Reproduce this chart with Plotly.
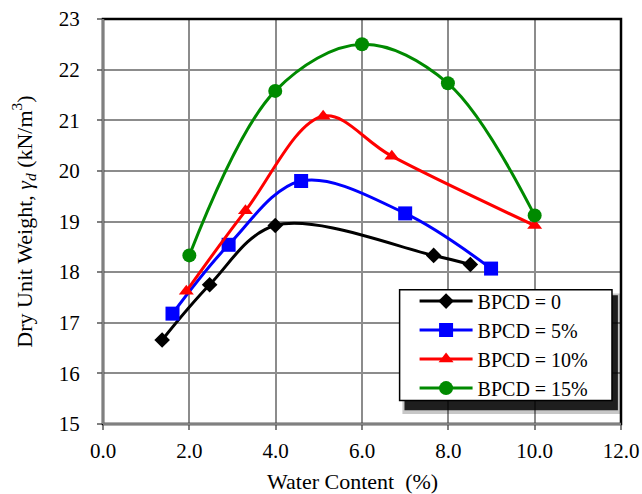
import plotly.graph_objects as go

x_0 = [1.37, 2.47, 3.99, 7.66, 8.51]
y_0 = [16.66, 17.75, 18.92, 18.33, 18.15]
x_5 = [1.61, 2.91, 4.59, 7.0, 8.99]
y_5 = [17.18, 18.54, 19.80, 19.16, 18.07]
x_10 = [1.93, 3.30, 5.10, 6.69, 10.0]
y_10 = [17.62, 19.21, 21.08, 20.29, 18.92]
x_15 = [2.0, 3.99, 6.0, 7.99, 10.0]
y_15 = [18.33, 21.58, 22.50, 21.73, 19.12]

names = ["BPCD = 0", "BPCD = 5%", "BPCD = 10%", "BPCD = 15%"]
colors = ["#000000", "#0000FF", "#FF0000", "#008A00"]
symbols = ["diamond", "square", "triangle-up", "circle"]
msizes = [12, 14, 13, 14]
x_title = "Water Content&nbsp; (%)"
y_title = "Dry Unit Weight, <i>γ<sub>d</sub></i> (kN/m<sup>3</sup>)"

FONT = "Liberation Serif"
fig = go.Figure()
for xs, ys, nm, c, s, ms in zip([x_0, x_5, x_10, x_15], [y_0, y_5, y_10, y_15],
                                names, colors, symbols, msizes):
    fig.add_trace(go.Scatter(
        x=xs, y=ys, name=nm, mode="lines+markers",
        line=dict(color=c, width=3, shape="spline", smoothing=1.0),
        marker=dict(color=c, symbol=s, size=ms, line=dict(width=0)),
    ))

# legend shadow (soft outer + dark inner) and legend box
fig.add_shape(type="rect", xref="paper", yref="paper",
              x0=0.578, x1=0.999, y0=0.025, y1=0.322,
              fillcolor="rgba(0,0,0,0.22)", line=dict(width=0), layer="above")
fig.add_shape(type="rect", xref="paper", yref="paper",
              x0=0.582, x1=0.994, y0=0.034, y1=0.318,
              fillcolor="rgba(0,0,0,0.85)", line=dict(width=0), layer="above")
fig.add_shape(type="rect", xref="paper", yref="paper",
              x0=0.5726, x1=0.9826, y0=0.0582, y1=0.3314,
              fillcolor="white", line=dict(color="black", width=1.5), layer="above")
# plot frame: black on top/right, gray on left/bottom
fig.add_shape(type="rect", xref="paper", yref="paper", x0=0, x1=1, y0=0, y1=1,
              line=dict(color="black", width=2.5), fillcolor="rgba(0,0,0,0)", layer="above")
fig.add_shape(type="line", xref="paper", yref="paper", x0=0, x1=0, y0=0, y1=1,
              line=dict(color="#808080", width=2.5), layer="above")
fig.add_shape(type="line", xref="paper", yref="paper", x0=0, x1=1, y0=0, y1=0,
              line=dict(color="#808080", width=2.5), layer="above")

fig.add_annotation(text=x_title, xref="paper", yref="paper", x=0.4826, y=-0.142,
                   xanchor="center", yanchor="middle", showarrow=False,
                   font=dict(family=FONT, size=22, color="black"))

fig.update_layout(
    width=642, height=494,
    margin=dict(l=103, r=21, t=19, b=70),
    paper_bgcolor="white", plot_bgcolor="white",
    font=dict(family=FONT, size=21, color="black"),
    showlegend=True,
    legend=dict(x=0.6015, y=0.3516, xanchor="left", yanchor="top",
                bgcolor="rgba(0,0,0,0)", borderwidth=0,
                font=dict(family=FONT, size=20), itemwidth=53,
                tracegroupgap=0, traceorder="normal"),
    xaxis=dict(range=[0, 12], dtick=2, tick0=0, tickformat=".1f",
               automargin=False, ticklabeloverflow="allow", ticklabelstandoff=3,
               showgrid=True, gridcolor="#8c8c8c", gridwidth=1.5,
               showline=False,
               ticks="outside", ticklen=5, tickcolor="#808080", tickwidth=1.5,
               zeroline=False, tickfont=dict(family=FONT, size=21)),
    yaxis=dict(range=[15, 23], dtick=1, tick0=15,
               automargin=False, ticklabeloverflow="allow", ticklabelstandoff=13,
               showgrid=True, gridcolor="#8c8c8c", gridwidth=1.5,
               showline=False,
               ticks="outside", ticklen=5, tickcolor="#808080", tickwidth=1.5,
               zeroline=False, tickfont=dict(family=FONT, size=21),
               title=dict(text=y_title, font=dict(family=FONT, size=22), standoff=20)),
)

fig.write_html("out.html", config={"displayModeBar": False},
               post_script="document.body.style.margin='0px';document.body.style.overflow='hidden';")
